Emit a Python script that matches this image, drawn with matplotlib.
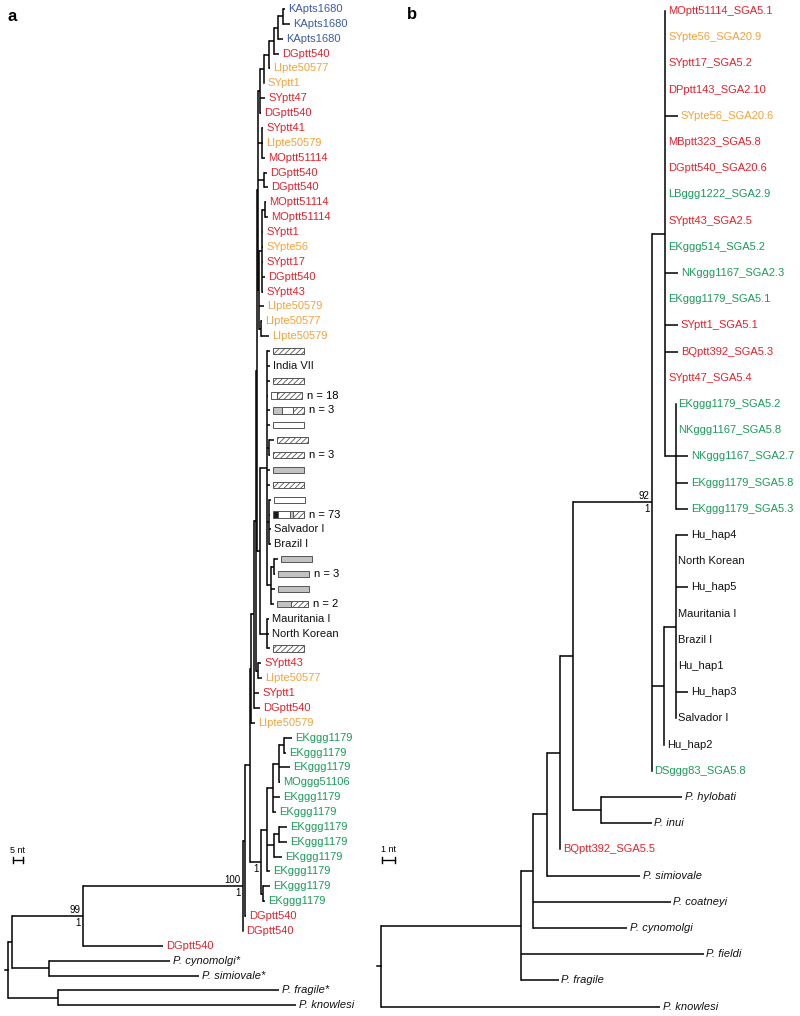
import matplotlib.pyplot as plt
from matplotlib.patches import Rectangle

plt.rcParams['font.family'] = ['Liberation Sans', 'DejaVu Sans']
plt.rcParams['hatch.linewidth'] = 0.6

COLORS = {'r': '#e8202a', 'o': '#f4a33c', 'b': '#3b5ba9', 'g': '#1a9c5a',
          'k': '#111111', 'i': '#111111'}

# ---------------- panel a data ----------------
tips_a = ['KApts1680', 'KApts1680', 'KApts1680', 'DGptt540', 'LIpte50577',
          'SYptt1', 'SYptt47', 'DGptt540', 'SYptt41', 'LIpte50579',
          'MOptt51114', 'DGptt540', 'DGptt540', 'MOptt51114', 'MOptt51114',
          'SYptt1', 'SYpte56', 'SYptt17', 'DGptt540', 'SYptt43',
          'LIpte50579', 'LIpte50577', 'LIpte50579',
          '', 'India VII', '', '', '', '', '', '', '', '', '', '',
          'Salvador I', 'Brazil I', '', '', '', '', 'Mauritania I', 'North Korean', '',
          'SYptt43', 'LIpte50577', 'SYptt1', 'DGptt540', 'LIpte50579',
          'EKggg1179', 'EKggg1179', 'EKggg1179', 'MOggg51106', 'EKggg1179',
          'EKggg1179', 'EKggg1179', 'EKggg1179', 'EKggg1179', 'EKggg1179',
          'EKggg1179', 'EKggg1179', 'DGptt540', 'DGptt540', 'DGptt540',
          'P. cynomolgi*', 'P. simiovale*', 'P. fragile*', 'P. knowlesi']
group_a = list('bbbroorrrorrrrrrorrrooo') + ['k'] * 21 + list('rorro') + \
    ['g'] * 12 + list('rrr') + list('iiii')

# haplotype boxes: leaf -> segments (start, end, fill)
boxes_a = {
    23: [(0, 1, 'h')], 25: [(0, 1, 'h')],
    26: [(0, 0.2, 'w'), (0.2, 1, 'h')],
    27: [(0, 0.29, 'g'), (0.29, 0.64, 'w'), (0.64, 1, 'h')],
    28: [(0, 1, 'w')], 29: [(0, 1, 'h')], 30: [(0, 1, 'h')],
    31: [(0, 1, 'g')], 32: [(0, 1, 'h')], 33: [(0, 1, 'w')],
    34: [(0, 0.16, 'k'), (0.16, 0.55, 'w'), (0.55, 0.63, 'g'), (0.63, 1, 'h')],
    37: [(0, 1, 'g')], 38: [(0, 1, 'g')], 39: [(0, 1, 'g')],
    40: [(0, 0.45, 'g'), (0.45, 1, 'h')], 43: [(0, 1, 'h')],
}
counts_a = {26: 'n = 18', 27: 'n = 3', 30: 'n = 3', 34: 'n = 73',
            38: 'n = 3', 40: 'n = 2'}

# tree: leaf = (index, depth); node = [depth or (depth, support_top, support_bottom), children...]
# depth in nt from the root
K1 = [137.5, (0, 138.5), (1, 141)]
K2 = [135, K1, (2, 137.5)]
K3 = [133, K2, (3, 135.5)]
K4 = [130.5, K3, (4, 131)]
K5 = [128, K4, (5, 128)]
T1 = [126, K5, (6, 128.5), (7, 126.5)]
T2 = [127, (8, 127.5), (9, 127.5), (10, 128.5)]
T3 = [128, (11, 129.5), (12, 130)]
T6 = [128.5, (13, 129), (14, 130)]
T5 = [127, T6, (15, 127.5), (16, 127.5), (17, 127.5), (18, 128.5), (19, 127.5)]
T7 = [126.5, (21, 127), (22, 130.5)]
T4 = [125.5, T5, (20, 128), T7]
T = [125, T1, T2, T3, T4]
H30 = [130.5, (29, 133), (30, 131)]
H34 = [130.5, (33, 131.5), (34, 131), (35, 131.5), (36, 131.5)]
Hg1 = [133, (37, 135), (38, 133.5)]
Hg = [131.5, Hg1, (39, 133.5), (40, 133)]
H = [129.5, (23, 131), (24, 131), (25, 131), (26, 130), (27, 131), (28, 131),
     H30, (31, 131), (32, 131), H34, Hg]
M = [129.5, (41, 130.5), (42, 130.5), (43, 131)]
Hm = [126, H, M]
A3 = [124.5, T, Hm]
A2b = [125, (44, 126.5), (45, 127)]
A2 = [124, A3, A2b]
A1b = [123, A2, (46, 125.5), (47, 126)]
A1 = [121.5, A1b, (48, 123.5)]
e1 = [138, (49, 142), (50, 139)]
e2 = [135.5, e1, (51, 141), (52, 136)]
e3 = [132.5, e2, (53, 136), (54, 134)]
e4 = [135.5, (55, 139.5), (56, 139.5)]
e5 = [133, e4, (57, 137)]
e6 = [129.5, e3, e5, (58, 131)]
e7 = [127.5, (59, 131), (60, 128.5)]
EK = [(126.5, '', '1'), e6, e7]
N7 = [121, A1, EK]
N6 = [118.5, N7, (61, 119)]
N5 = [(117.5, '100', '1'), N6, (62, 117.5)]
N3 = [(37.5, '99', '1'), N5, (63, 77.5)]
N4 = [20.5, (64, 81), (65, 95.5)]
N1 = [2, N3, N4]
N2 = [25, (66, 135.5), (67, 144)]
tree_a = [0, N1, N2]

# ---------------- panel b data ----------------
tips_b = ['MOptt51114_SGA5.1', 'SYpte56_SGA20.9', 'SYptt17_SGA5.2', 'DPptt143_SGA2.10',
          'SYpte56_SGA20.6', 'MBptt323_SGA5.8', 'DGptt540_SGA20.6', 'LBggg1222_SGA2.9',
          'SYptt43_SGA2.5', 'EKggg514_SGA5.2', 'NKggg1167_SGA2.3', 'EKggg1179_SGA5.1',
          'SYptt1_SGA5.1', 'BQptt392_SGA5.3', 'SYptt47_SGA5.4', 'EKggg1179_SGA5.2',
          'NKggg1167_SGA5.8', 'NKggg1167_SGA2.7', 'EKggg1179_SGA5.8', 'EKggg1179_SGA5.3',
          'Hu_hap4', 'North Korean', 'Hu_hap5', 'Mauritania I', 'Brazil I', 'Hu_hap1',
          'Hu_hap3', 'Salvador I', 'Hu_hap2', 'DSggg83_SGA5.8', 'P. hylobati', 'P. inui',
          'BQptt392_SGA5.5', 'P. simiovale', 'P. coatneyi', 'P. cynomolgi', 'P. fieldi',
          'P. fragile', 'P. knowlesi']
group_b = list('rorrorrgrgggrrrggggg') + ['k'] * 9 + ['g', 'i', 'i', 'r'] + ['i'] * 6

B = [23.2, (15, 23.2), (16, 23.2), (17, 24.2), (18, 24.2), (19, 24.2)]
A = [22.4, (0, 22.4), (1, 22.4), (2, 22.4), (3, 22.4), (4, 23.4), (5, 22.4),
     (6, 22.4), (7, 22.4), (8, 22.4), (9, 22.4), (10, 23.4), (11, 22.4),
     (12, 23.4), (13, 23.4), (14, 22.4), B]
Hb2 = [23.2, (20, 24.2), (21, 23.2), (22, 24.2), (23, 23.2), (24, 23.2),
       (25, 23.2), (26, 24.2), (27, 23.2)]
Hb1 = [22.3, Hb2, (28, 22.3)]
N92 = [(21.3, '92', '1'), A, Hb1, (29, 21.3)]
HI = [17.3, (30, 23.7), (31, 21.3)]
C = [15.1, N92, HI]
D = [14.1, C, (32, 14.1)]
E = [13.1, D, (33, 20.4)]
F = [12.0, E, (34, 22.8), (35, 19.4)]
G = [11.0, F, (36, 25.4), (37, 14.0)]
tree_b = [0, G, (38, 22.0)]


def draw_tree(ax, node, ends, lw=1.1):
    if isinstance(node, tuple):
        ends[node[0]] = node[1]
        return node[1], node[0]
    head = node[0]
    x = head[0] if isinstance(head, tuple) else head
    kids = [draw_tree(ax, c, ends, lw) for c in node[1:]]
    y0, y1 = kids[0][1], kids[-1][1]
    ax.plot([x, x], [y0, y1], color='k', lw=lw, solid_capstyle='projecting')
    for cx, cy in kids:
        if cx > x:
            ax.plot([x, cx], [cy, cy], color='k', lw=lw, solid_capstyle='butt')
    y = (y0 + y1) / 2
    if isinstance(head, tuple):
        top, bot = head[1], head[2]
        if top:
            ax.annotate(top, (x, y), xytext=(-1.5, 0.8), textcoords='offset points',
                        ha='right', va='bottom', fontsize=7)
        if bot:
            ax.annotate(bot, (x, y), xytext=(-1.5, -1.5), textcoords='offset points',
                        ha='right', va='top', fontsize=7)
    return x, y


def draw_labels(ax, tips, groups, ends, gap):
    for i, name in enumerate(tips):
        if not name:
            continue
        g = groups[i]
        ax.annotate(name, (ends[i], i), xytext=(gap, 0), textcoords='offset points',
                    ha='left', va='center', fontsize=8, color=COLORS[g],
                    style='italic' if g == 'i' else 'normal')


def scale_bar(ax, x0, length, y, tick, text):
    ax.plot([x0, x0 + length], [y, y], color='k', lw=1.0)
    for xx in (x0, x0 + length):
        ax.plot([xx, xx], [y - tick, y + tick], color='k', lw=1.0)
    ax.text(x0 + length / 2, y - 1.8 * tick, text, ha='center', va='bottom', fontsize=6.5)


fig = plt.figure(figsize=(8, 10.16), dpi=100)

ax_a = fig.add_axes([0, 0, 0.5, 1])
ax_a.set_xlim(-4, 196)
ax_a.set_ylim(67.72, -0.605)
ax_a.axis('off')
ends_a = {}
rx, ry = draw_tree(ax_a, tree_a, ends_a)
ax_a.plot([rx - 1.5, rx], [ry, ry], color='k', lw=1.1)
draw_labels(ax_a, tips_a, group_a, ends_a, 2.2)

fills = {'h': 'white', 'w': 'white', 'g': '#c2c2c2', 'k': '#1a1a1a'}
box_w, box_h = 15.5, 0.42
for i, segs in boxes_a.items():
    x0 = ends_a[i] + 1.5
    for s, e, f in segs:
        ax_a.add_patch(Rectangle((x0 + s * box_w, i - box_h / 2), (e - s) * box_w, box_h,
                                 facecolor=fills[f], edgecolor='#555555', lw=0.7,
                                 hatch='//////' if f == 'h' else None))
    if i in counts_a:
        ax_a.text(x0 + box_w + 2.5, i, counts_a[i], ha='left', va='center', fontsize=8)

scale_bar(ax_a, 2.35, 5, 57.23, 0.2, '5 nt')

ax_b = fig.add_axes([0.45, 0, 0.55, 1])
ax_b.set_xlim(-21 / 12.7, 419 / 12.7)
ax_b.set_ylim(38.36, -0.42)
ax_b.axis('off')
ends_b = {}
rx, ry = draw_tree(ax_b, tree_b, ends_b)
ax_b.plot([rx - 0.3, rx], [ry, ry], color='k', lw=1.1)
draw_labels(ax_b, tips_b, group_b, ends_b, 1.9)
scale_bar(ax_b, 0.08, 1, 32.4, 0.115, '1 nt')

fig.text(0.015, 0.984, 'a', fontsize=12, fontweight='bold', ha='center', va='center')
fig.text(0.515, 0.986, 'b', fontsize=12, fontweight='bold', ha='center', va='center')

fig.savefig('out.png', dpi=100)
